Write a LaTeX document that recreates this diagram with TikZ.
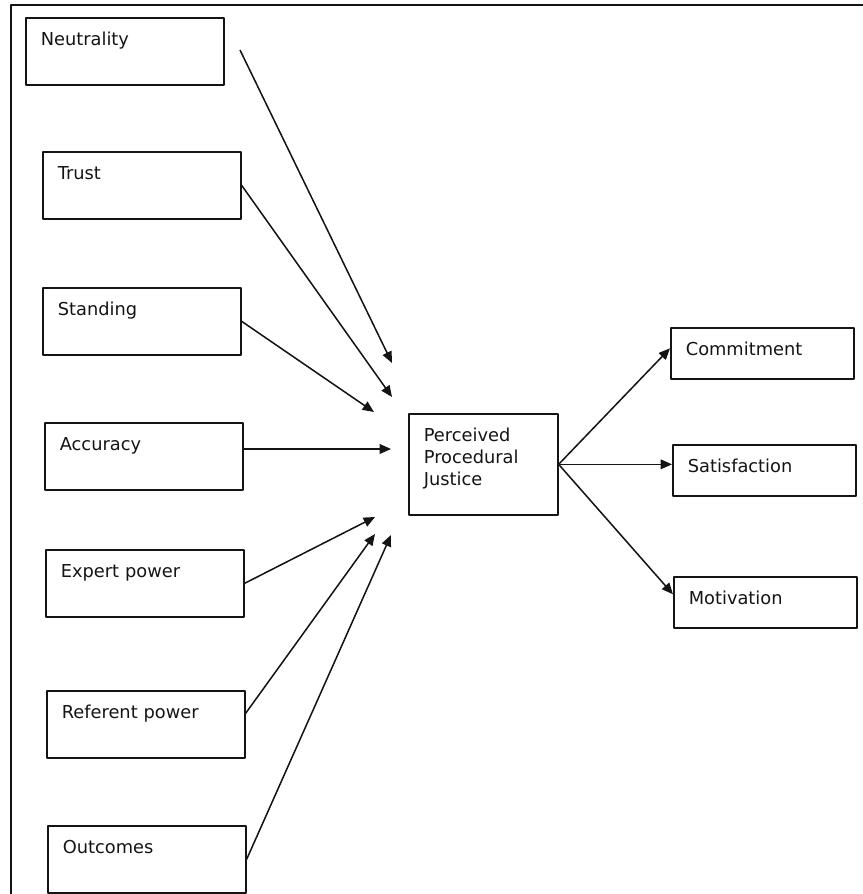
\documentclass[tikz,border=0pt]{standalone}
\usepackage{fontspec}
\setmainfont{DejaVu Sans}
\usetikzlibrary{arrows.meta}
\definecolor{scanink}{HTML}{141414}

\begin{document}
\begin{tikzpicture}[
  x=0.3mm,
  y=-0.3mm,
  line join=round,
  font=\fontsize{15.2}{18.6}\selectfont,
  box/.style={draw=scanink,line width=1.4pt,text=scanink,anchor=north west,
    align=left,inner sep=4.5mm,text height=3.9mm},
  factor/.style={box,text width=50.4mm,text depth=7.2mm},
  outcome/.style={box,text width=45.9mm,text depth=2.4mm},
  core/.style={box,text width=35.7mm,text depth=17.4mm},
  link/.style={draw=scanink,line width=1.3pt,-{Triangle[length=3.4mm,width=2.9mm]}}
]
  \useasboundingbox (0,0) rectangle (863,894);

  % Page frame: only the top and left rules survive in the scan.
  \draw[scanink,line width=1.2pt] (11,894) -- (11,5) -- (863,5);

  % Antecedents of procedural justice, left column.
  \node[factor] (neutral)  at (25,17)  {Neutrality};
  \node[factor] (trust)    at (42,151) {Trust};
  \node[factor] (standing) at (42,287) {Standing};
  \node[factor] (accuracy) at (44,422) {Accuracy};
  \node[factor] (expert)   at (45,549) {Expert power};
  \node[factor] (referent) at (46,690) {Referent power};
  \node[factor] (outcomes) at (47,825) {Outcomes};

  % Central construct and its consequences.
  \node[core] (ppj) at (408,413) {Perceived\\Procedural\\Justice};
  \node[outcome] (commit) at (670,327) {Commitment};
  \node[outcome] (satis)  at (672,444) {Satisfaction};
  \node[outcome] (motiv)  at (673,576) {Motivation};

  % Arrow tips stop short of the central box.
  \coordinate (neutralStart) at (240,50);
  \coordinate (tipNeutral)  at (392,363);
  \coordinate (tipTrust)    at (392,397);
  \coordinate (tipStanding) at (374,412);
  \coordinate (tipAccuracy) at (391,449);
  \coordinate (tipExpert)   at (375,517);
  \coordinate (tipReferent) at (375,534);
  \coordinate (tipOutcomes) at (391,535);

  \draw[link] (neutralStart) -- (tipNeutral);
  \draw[link] (trust.east) -- (tipTrust);
  \draw[link] (standing.east) -- (tipStanding);
  \draw[link] (accuracy.east |- tipAccuracy) -- (tipAccuracy);
  \draw[link] (expert.east) -- (tipExpert);
  \draw[link] ([yshift=3.3mm]referent.east) -- (tipReferent);
  \draw[link] (outcomes.east) -- (tipOutcomes);

  % Fan out to the three results.
  \draw[link] (ppj.east) -- ([yshift=1.5mm]commit.west);
  \draw[link] (ppj.east) -- (ppj.east -| satis.west);
  \draw[link] (ppj.east) -- ([yshift=2.4mm]motiv.west);
\end{tikzpicture}
\end{document}
